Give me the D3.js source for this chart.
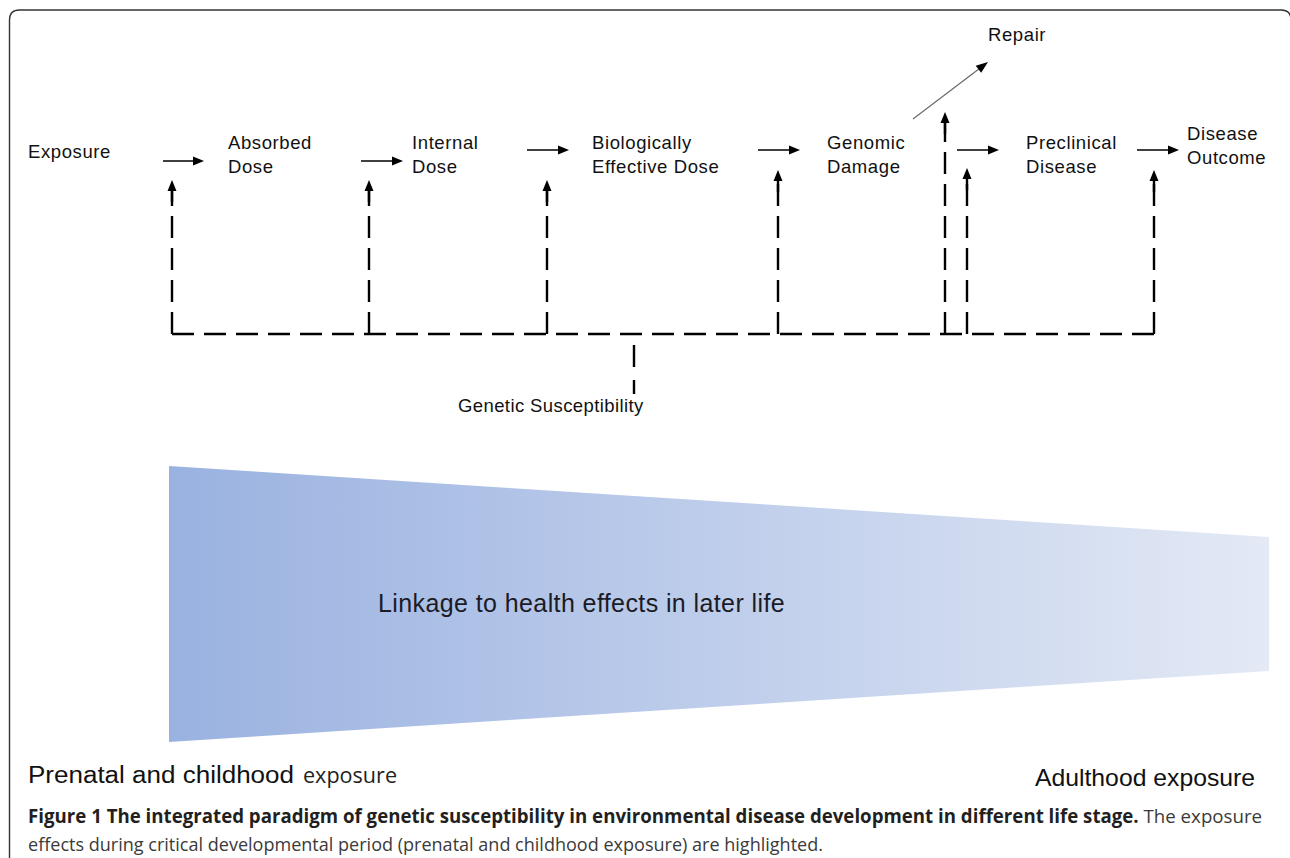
<!DOCTYPE html>
<html>
<head>
<meta charset="utf-8">
<script src="https://cdn.jsdelivr.net/npm/d3@7"></script>
<style>
html, body { margin: 0; padding: 0; background: #fff; }
svg { display: block; }
</style>
</head>
<body>
<div id="chart"></div>
<script>

// labels of the exposure -> disease pathway
var stageLabels = [
	["Exposure"],
	["Absorbed", "Dose"],
	["Internal", "Dose"],
	["Biologically", "Effective Dose"],
	["Genomic", "Damage"],
	["Preclinical", "Disease"],
	["Disease", "Outcome"]
];
var repairLabel = "Repair";
var susceptibilityLabel = "Genetic Susceptibility";
var linkageLabel = "Linkage to health effects in later life";
var lifeStages = ["Prenatal and childhood", "Adulthood"];
var exposureWord = "exposure";

// strength of the linkage along life course (early life -> adulthood)
var lifeCourse = [0, 1];
var linkageStrength = [1, 0.486];

var captionBold = "Figure 1 The integrated paradigm of genetic susceptibility in environmental disease development in different life stage.";
var captionRest = ["The exposure", "effects during critical developmental period (prenatal and childhood exposure) are highlighted."];

// ---- layout (page pixels) ----
var W = 1290, H = 858;
var stageX = [28, 228, 412, 592, 827, 1026, 1187];
var stageY = [158, 149, 149, 149, 149, 149, 140];
var lineGap = 23.5;
// horizontal arrows between stages: [from x, to x, y]
var flowArrows = [[163, 204, 161], [361, 403, 161], [527, 569, 150], [758, 800, 150], [957, 999, 150], [1137, 1179, 150]];
// susceptibility feedback lines: x and arrow tip y
var suscX = [172, 369, 547, 778, 945, 967, 1154];
var suscTop = [180, 180, 180, 170, 112, 168, 170];
var busY = 334;

var svg = d3.select('#chart').append("svg")
	.attr("width", W)
	.attr("height", H);

var defs = svg.append("defs");
var grad = defs.append("linearGradient")
	.attr("id", "linkGrad")
	.attr("x1", "0%").attr("x2", "100%")
	.attr("y1", "0%").attr("y2", "0%");
grad.append("stop").attr("offset", "0%").attr("stop-color", "#9ab2e0");
grad.append("stop").attr("offset", "55%").attr("stop-color", "#c2d0ec");
grad.append("stop").attr("offset", "100%").attr("stop-color", "#e3e9f5");

defs.append("filter").attr("id", "soft")
	.append("feGaussianBlur").attr("stdDeviation", 0.7);

// frame
svg.append("path")
	.attr("d", "M9.5," + H + " V20 Q9.5,10 19.5,10 H1281 Q1291,10 1291,20 V" + H)
	.attr("fill", "none")
	.attr("stroke", "#333")
	.attr("stroke-width", 1.4);

// ---- linkage wedge ----
var xLife = d3.scaleLinear().domain([0, 1]).range([169, 1269]);
var halfH = d3.scaleLinear().domain([0, 1]).range([0, 138]);
var midY = 604;

var wedge = d3.area()
	.x(function (d) { return xLife(d.t); })
	.y0(function (d) { return midY - halfH(d.v); })
	.y1(function (d) { return midY + halfH(d.v); });

svg.append("path")
	.datum(lifeCourse.map(function (t, i) { return { t: t, v: linkageStrength[i] }; }))
	.attr("d", wedge)
	.attr("fill", "url(#linkGrad)")
	.attr("filter", "url(#soft)");

svg.append("text")
	.attr("x", 378)
	.attr("y", 612)
	.style("font-family", "Arial, 'Liberation Sans', sans-serif")
	.style("font-size", "25px")
	.style("letter-spacing", "0.4px")
	.style("fill", "#1b1b26")
	.text(linkageLabel);

// ---- stage labels ----
var labelFont = "Arial, 'Liberation Sans', sans-serif";

svg.selectAll(".stage")
	.data(stageLabels)
	.enter().append("text")
		.attr("class", "stage")
		.attr("x", function (d, i) { return stageX[i]; })
		.attr("y", function (d, i) { return stageY[i]; })
		.style("font-family", labelFont)
		.style("font-size", "18.5px")
		.style("letter-spacing", "0.6px")
		.style("fill", "#111")
		.each(function (d, i) {
			var t = d3.select(this);
			d.forEach(function (line, k) {
				t.append("tspan")
					.attr("x", stageX[i])
					.attr("dy", k == 0 ? 0 : lineGap)
					.text(line);
			});
		});

svg.append("text")
	.attr("x", 988).attr("y", 41)
	.style("font-family", labelFont)
	.style("font-size", "18.5px")
	.style("letter-spacing", "0.6px")
	.style("fill", "#111")
	.text(repairLabel);

// ---- flow arrows ----
function head(g, tipX, tipY, angle, len, half) {
	var c = Math.cos(angle), s = Math.sin(angle);
	var bx = tipX - len * c, by = tipY - len * s;
	var p = d3.path();
	p.moveTo(tipX, tipY);
	p.lineTo(bx - half * s, by + half * c);
	p.lineTo(bx + half * s, by - half * c);
	p.closePath();
	g.append("path").attr("d", p.toString()).attr("fill", "#000");
}

var arrows = svg.append("g");
flowArrows.forEach(function (a) {
	arrows.append("line")
		.attr("x1", a[0]).attr("x2", a[1] - 9)
		.attr("y1", a[2]).attr("y2", a[2])
		.attr("stroke", "#000")
		.attr("stroke-width", 1.5);
	head(arrows, a[1], a[2], 0, 11, 4.5);
});

// repair branch
var rep = [913, 119, 988, 62];
var repAng = Math.atan2(rep[3] - rep[1], rep[2] - rep[0]);
arrows.append("line")
	.attr("x1", rep[0]).attr("y1", rep[1])
	.attr("x2", rep[2] - 9 * Math.cos(repAng)).attr("y2", rep[3] - 9 * Math.sin(repAng))
	.attr("stroke", "#666")
	.attr("stroke-width", 1.1);
head(arrows, rep[2], rep[3], repAng, 12, 4.5);

// ---- genetic susceptibility feedback ----
var susc = svg.append("g");
suscX.forEach(function (x, i) {
	var top = suscTop[i];
	susc.append("line")
		.attr("x1", x).attr("x2", x)
		.attr("y1", busY).attr("y2", top + 10)
		.attr("stroke", "#000")
		.attr("stroke-width", 2.4)
		.attr("stroke-dasharray", "22,10");
	susc.append("line")
		.attr("x1", x).attr("x2", x)
		.attr("y1", top + 9).attr("y2", top + 22)
		.attr("stroke", "#000")
		.attr("stroke-width", 2.4);
	head(susc, x, top, -Math.PI / 2, 11, 4.5);
});

susc.append("line")
	.attr("x1", suscX[0]).attr("x2", suscX[suscX.length - 1])
	.attr("y1", busY).attr("y2", busY)
	.attr("stroke", "#000")
	.attr("stroke-width", 2.4)
	.attr("stroke-dasharray", "22,10");

susc.append("line")
	.attr("x1", 634).attr("x2", 634)
	.attr("y1", 345).attr("y2", 394)
	.attr("stroke", "#000")
	.attr("stroke-width", 2.4)
	.attr("stroke-dasharray", "22,13");

svg.append("text")
	.attr("x", 458).attr("y", 412)
	.style("font-family", labelFont)
	.style("font-size", "18.5px")
	.style("letter-spacing", "0.4px")
	.style("fill", "#111")
	.text(susceptibilityLabel);

// ---- life stage labels ----
svg.append("text")
	.attr("x", 28).attr("y", 783)
	.style("font-family", labelFont)
	.style("font-size", "23px")
	.style("fill", "#111")
	.attr("textLength", 266)
	.attr("lengthAdjust", "spacingAndGlyphs")
	.text(lifeStages[0]);

svg.append("text")
	.attr("x", 303).attr("y", 783)
	.style("font-family", "'Open Sans', sans-serif")
	.style("font-size", "22px")
	.style("fill", "#222")
	.attr("textLength", 94)
	.attr("lengthAdjust", "spacingAndGlyphs")
	.text(exposureWord);

svg.append("text")
	.attr("x", 1035).attr("y", 786)
	.style("font-family", labelFont)
	.style("font-size", "24px")
	.style("fill", "#111")
	.attr("textLength", 220)
	.attr("lengthAdjust", "spacingAndGlyphs")
	.text(lifeStages[1] + " " + exposureWord);

// ---- caption (justified first line) ----
var capFont = "'Open Sans', 'Noto Sans', sans-serif";
var cap1 = svg.append("text")
	.attr("x", 28).attr("y", 823)
	.style("font-family", capFont)
	.style("font-size", "19px");
cap1.append("tspan")
	.style("font-weight", "bold")
	.style("fill", "#231f20")
	.text(captionBold + " ");
cap1.append("tspan")
	.style("fill", "#3a3a3a")
	.text(captionRest[0]);
var natural = cap1.node().getComputedTextLength();
if (natural > 1234) {
	cap1.attr("textLength", 1234).attr("lengthAdjust", "spacingAndGlyphs");
} else {
	cap1.style("word-spacing", ((1234 - natural) / 16) + "px");
}

svg.append("text")
	.attr("x", 28).attr("y", 851)
	.style("font-family", capFont)
	.style("font-size", "19px")
	.style("fill", "#3a3a3a")
	.attr("textLength", 795)
	.attr("lengthAdjust", "spacingAndGlyphs")
	.text(captionRest[1]);

</script>
</body>
</html>
